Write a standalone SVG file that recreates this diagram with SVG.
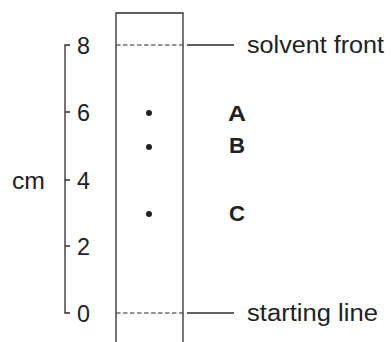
<svg xmlns="http://www.w3.org/2000/svg" width="391" height="342" viewBox="0 0 391 342">
  <style>
    .ln { stroke: #2b2b2b; stroke-width: 1.3; fill: none; }
    .dash { stroke: #2b2b2b; stroke-width: 1.2; stroke-dasharray: 4.5 2.5; fill: none; }
    .num { font-family: "Liberation Sans", Arial, sans-serif; font-size: 24px; fill: #222; }
    .lbl { font-family: "Liberation Sans", Arial, sans-serif; font-size: 23px; fill: #222; }
    .spot { font-family: "Liberation Sans", Arial, sans-serif; font-size: 22px; font-weight: bold; fill: #222; }
  </style>
  <rect width="391" height="342" fill="#fff"/>

  <!-- scale in cm -->
  <g id="scale">
    <path class="ln" d="M70 45 H65 V313 H70 M65 112 H70 M65 180 H70 M65 246 H70"/>
    <text class="num" x="77" y="54" textLength="13" lengthAdjust="spacingAndGlyphs">8</text>
    <text class="num" x="77" y="121" textLength="13" lengthAdjust="spacingAndGlyphs">6</text>
    <text class="num" x="77" y="189" textLength="13" lengthAdjust="spacingAndGlyphs">4</text>
    <text class="num" x="77" y="255" textLength="13" lengthAdjust="spacingAndGlyphs">2</text>
    <text class="num" x="77" y="322" textLength="13" lengthAdjust="spacingAndGlyphs">0</text>
    <text class="lbl" x="12" y="189" textLength="33" lengthAdjust="spacingAndGlyphs">cm</text>
  </g>

  <!-- chromatography paper strip -->
  <g id="paper">
    <path class="ln" d="M116 342 V13 H183 V342"/>
  </g>

  <!-- solvent front and starting line -->
  <g id="solvent-front">
    <line class="dash" x1="116" y1="45" x2="183" y2="45"/>
    <text class="lbl" x="247" y="53" textLength="137" lengthAdjust="spacingAndGlyphs">solvent front</text>
  </g>
  <g id="starting-line">
    <line class="dash" x1="116" y1="313" x2="183" y2="313"/>
    <text class="lbl" x="247" y="321" textLength="131" lengthAdjust="spacingAndGlyphs">starting line</text>
  </g>

  <!-- spots -->
  <g id="spot-A">
    <circle cx="149" cy="113" r="3" fill="#222"/>
    <text class="spot" x="228" y="121" textLength="18" lengthAdjust="spacingAndGlyphs">A</text>
  </g>
  <g id="spot-B">
    <circle cx="149" cy="147" r="3" fill="#222"/>
    <text class="spot" x="229" y="153" textLength="16" lengthAdjust="spacingAndGlyphs">B</text>
  </g>
  <g id="spot-C">
    <circle cx="149" cy="214" r="3" fill="#222"/>
    <text class="spot" x="229" y="221" textLength="16" lengthAdjust="spacingAndGlyphs">C</text>
  </g>

  <!-- leader lines -->
  <g id="connectors">
    <line class="ln" x1="187" y1="45" x2="234" y2="45"/>
    <line class="ln" x1="187" y1="313" x2="234" y2="313"/>
  </g>
</svg>
